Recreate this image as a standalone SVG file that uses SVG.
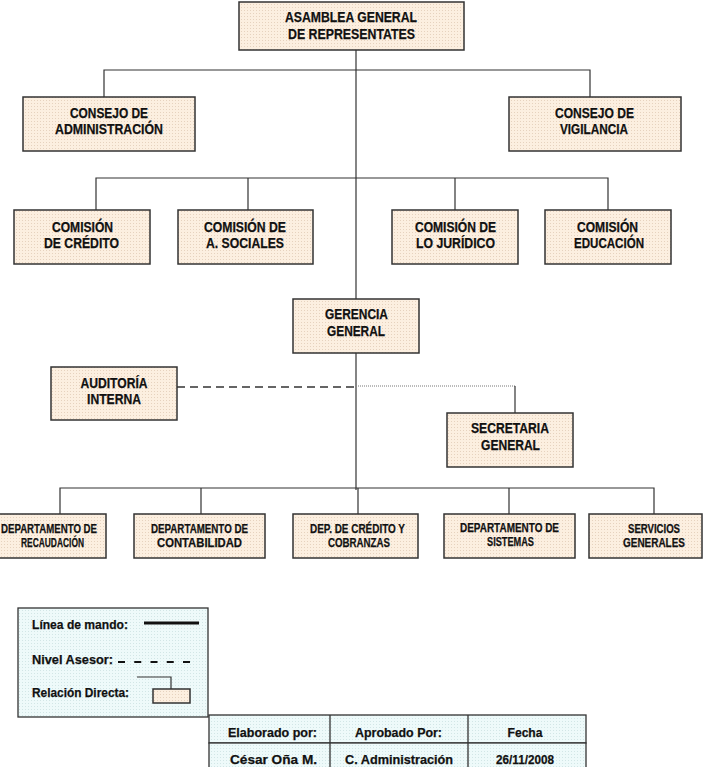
<svg xmlns="http://www.w3.org/2000/svg" width="704" height="767" viewBox="0 0 704 767">
<defs>
<pattern id="dots" width="3" height="3" patternUnits="userSpaceOnUse">
<rect width="3" height="3" fill="#FCEFE0"/>
<rect x="1" y="1" width="1" height="1" fill="#E6D2BE"/>
</pattern>
<pattern id="cdots" width="3" height="3" patternUnits="userSpaceOnUse">
<rect width="3" height="3" fill="#EEFAFA"/>
<rect x="1" y="1" width="1" height="1" fill="#D2E6E6"/>
</pattern>
<style>
.box{fill:url(#dots);stroke:#333;stroke-width:1.5}
.cbox{fill:url(#cdots);stroke:#333;stroke-width:1.3}
.t{font-family:"Liberation Sans",Arial,sans-serif;font-weight:bold;fill:#111;stroke:#111;stroke-width:0.25;text-anchor:middle}
.l14{font-size:15px}
.l12{font-size:12.5px}
.l13{font-size:13.5px}
.tl{text-anchor:start}
.ln{fill:none;stroke:#333;stroke-width:1.2}
</style>
</defs>
<rect width="704" height="767" fill="#fff"/>
<g id="connectors">
<path class="ln" d="M356 50 V490"/>
<path class="ln" d="M104 97 V70 H590 V97"/>
<path class="ln" d="M96 210 V178 H608 V210 M248 178 V210 M455 178 V210"/>
<path class="ln" d="M60 514 V488 H654 V514 M201 488 V514 M358 488 V514 M509 488 V514"/>
<path fill="none" stroke="#333" stroke-width="1.3" stroke-dasharray="8,5" d="M177 387 H356"/>
<path fill="none" stroke="#777" stroke-width="1" stroke-dasharray="1,1" d="M358 386 H515"/>
<path class="ln" d="M515 386 V413"/>
</g>
<g id="asamblea"><rect class="box" x="239" y="2" width="225" height="48"/><text class="t l14" x="351" y="22" textLength="132" lengthAdjust="spacingAndGlyphs">ASAMBLEA GENERAL</text><text class="t l14" x="351.5" y="39" textLength="127" lengthAdjust="spacingAndGlyphs">DE REPRESENTATES</text></g>
<g id="consejo-admin"><rect class="box" x="23" y="97" width="172" height="54"/><text class="t l14" x="109" y="118" textLength="78" lengthAdjust="spacingAndGlyphs">CONSEJO DE</text><text class="t l14" x="109" y="134" textLength="108" lengthAdjust="spacingAndGlyphs">ADMINISTRACIÓN</text></g>
<g id="consejo-vig"><rect class="box" x="509" y="97" width="172" height="54"/><text class="t l14" x="594.5" y="118" textLength="79" lengthAdjust="spacingAndGlyphs">CONSEJO DE</text><text class="t l14" x="594" y="134" textLength="68" lengthAdjust="spacingAndGlyphs">VIGILANCIA</text></g>
<g id="com-credito"><rect class="box" x="14" y="210" width="136" height="54"/><text class="t l14" x="82.5" y="232" textLength="61" lengthAdjust="spacingAndGlyphs">COMISIÓN</text><text class="t l14" x="81.5" y="248" textLength="75" lengthAdjust="spacingAndGlyphs">DE CRÉDITO</text></g>
<g id="com-sociales"><rect class="box" x="178" y="210" width="135" height="54"/><text class="t l14" x="245" y="232" textLength="82" lengthAdjust="spacingAndGlyphs">COMISIÓN DE</text><text class="t l14" x="245" y="248" textLength="78" lengthAdjust="spacingAndGlyphs">A. SOCIALES</text></g>
<g id="com-juridico"><rect class="box" x="392" y="210" width="126" height="54"/><text class="t l14" x="455.5" y="232" textLength="81" lengthAdjust="spacingAndGlyphs">COMISIÓN DE</text><text class="t l14" x="455.5" y="248" textLength="79" lengthAdjust="spacingAndGlyphs">LO JURÍDICO</text></g>
<g id="com-educacion"><rect class="box" x="545" y="210" width="126" height="54"/><text class="t l14" x="607.5" y="232" textLength="61" lengthAdjust="spacingAndGlyphs">COMISIÓN</text><text class="t l14" x="609" y="248" textLength="70" lengthAdjust="spacingAndGlyphs">EDUCACIÓN</text></g>
<g id="gerencia"><rect class="box" x="293" y="299" width="126" height="54"/><text class="t l14" x="356.5" y="319" textLength="63" lengthAdjust="spacingAndGlyphs">GERENCIA</text><text class="t l14" x="356" y="336" textLength="58" lengthAdjust="spacingAndGlyphs">GENERAL</text></g>
<g id="auditoria"><rect class="box" x="51" y="367" width="126" height="53"/><text class="t l14" x="114" y="388" textLength="67" lengthAdjust="spacingAndGlyphs">AUDITORÍA</text><text class="t l14" x="114" y="404" textLength="54" lengthAdjust="spacingAndGlyphs">INTERNA</text></g>
<g id="secretaria"><rect class="box" x="447" y="413" width="126" height="54"/><text class="t l14" x="510" y="433" textLength="78" lengthAdjust="spacingAndGlyphs">SECRETARIA</text><text class="t l14" x="510.5" y="450" textLength="59" lengthAdjust="spacingAndGlyphs">GENERAL</text></g>
<g id="dep-recaudacion"><rect class="box" x="-1" y="514" width="107" height="44"/><text class="t l12" x="49" y="533" textLength="96" lengthAdjust="spacingAndGlyphs">DEPARTAMENTO DE</text><text class="t l12" x="52.5" y="547" textLength="63" lengthAdjust="spacingAndGlyphs">RECAUDACIÓN</text></g>
<g id="dep-contabilidad"><rect class="box" x="134" y="514" width="131" height="44"/><text class="t l12" x="199.5" y="533" textLength="97" lengthAdjust="spacingAndGlyphs">DEPARTAMENTO DE</text><text class="t l12" x="199.5" y="547" textLength="85" lengthAdjust="spacingAndGlyphs">CONTABILIDAD</text></g>
<g id="dep-credito"><rect class="box" x="293" y="514" width="125" height="44"/><text class="t l12" x="357.5" y="533" textLength="95" lengthAdjust="spacingAndGlyphs">DEP. DE CRÉDITO Y</text><text class="t l12" x="359" y="547" textLength="62" lengthAdjust="spacingAndGlyphs">COBRANZAS</text></g>
<g id="dep-sistemas"><rect class="box" x="444" y="514" width="131" height="44"/><text class="t l12" x="509.5" y="532" textLength="99" lengthAdjust="spacingAndGlyphs">DEPARTAMENTO DE</text><text class="t l12" x="510.5" y="546" textLength="47" lengthAdjust="spacingAndGlyphs">SISTEMAS</text></g>
<g id="servicios"><rect class="box" x="589" y="514" width="113" height="44"/><text class="t l12" x="654" y="533" textLength="52" lengthAdjust="spacingAndGlyphs">SERVICIOS</text><text class="t l12" x="654" y="547" textLength="62" lengthAdjust="spacingAndGlyphs">GENERALES</text></g>
<g id="legend">
<rect class="cbox" x="18" y="608" width="190" height="109"/>
<text class="t l13 tl" x="32" y="629" textLength="96" lengthAdjust="spacingAndGlyphs">Línea de mando:</text>
<path stroke="#111" stroke-width="3" d="M144 623 H199"/>
<text class="t l13 tl" x="32" y="664" textLength="81" lengthAdjust="spacingAndGlyphs">Nivel Asesor:</text>
<path stroke="#111" stroke-width="2" stroke-dasharray="7,9.25" d="M118 662 H190"/>
<text class="t l13 tl" x="32" y="697" textLength="97" lengthAdjust="spacingAndGlyphs">Relación Directa:</text>
<path class="ln" d="M137 677 H171 V689"/>
<rect class="box" x="153" y="689" width="37" height="14" stroke-width="1.2"/>
</g>
<g id="table">
<rect class="cbox" x="209" y="715" width="377" height="28"/>
<rect class="cbox" x="209" y="743" width="377" height="30"/>
<path stroke="#333" stroke-width="1.3" d="M330 715 V767 M468 715 V767"/>
<text class="t l13" x="272.5" y="737" textLength="89" lengthAdjust="spacingAndGlyphs">Elaborado por:</text>
<text class="t l13" x="398.5" y="737" textLength="87" lengthAdjust="spacingAndGlyphs">Aprobado Por:</text>
<text class="t l13" x="525" y="737" textLength="35" lengthAdjust="spacingAndGlyphs">Fecha</text>
<text class="t l13" x="273.5" y="764" textLength="87" lengthAdjust="spacingAndGlyphs">César Oña M.</text>
<text class="t l13" x="399" y="764" textLength="108" lengthAdjust="spacingAndGlyphs">C. Administración</text>
<text class="t l13" x="525" y="764" textLength="58" lengthAdjust="spacingAndGlyphs">26/11/2008</text>
</g>
</svg>
